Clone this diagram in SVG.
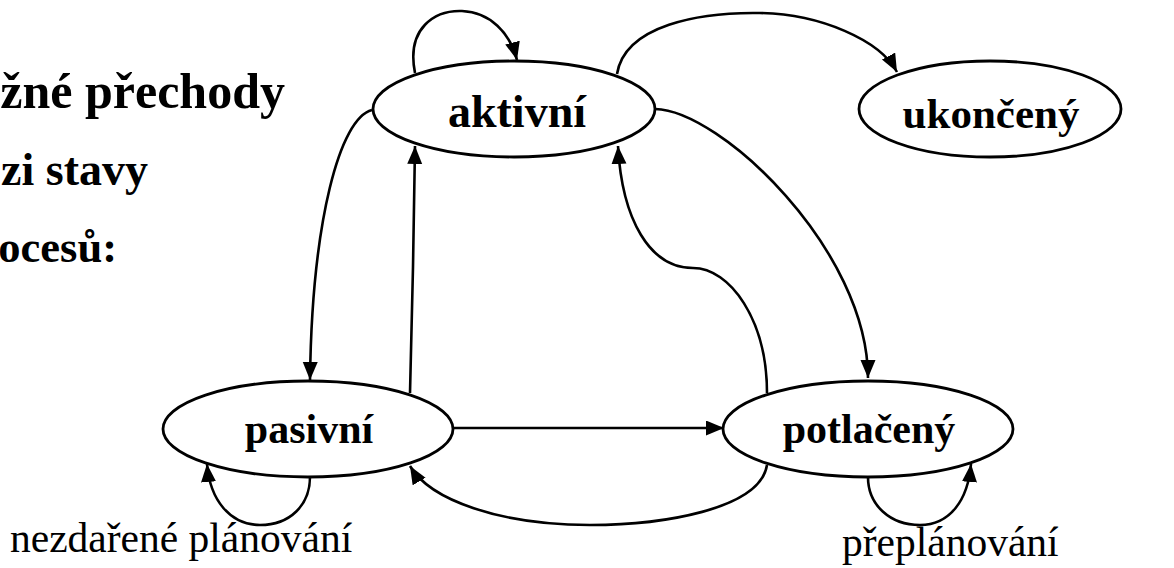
<svg xmlns="http://www.w3.org/2000/svg" width="1174" height="568" viewBox="0 0 1174 568">
<style>
.node{fill:#fff;stroke:#000;stroke-width:2.8}
.serif{font-family:"Liberation Serif","Times New Roman",serif}
.lbl{font-weight:bold;text-anchor:middle}
.title{font-weight:bold;text-anchor:end}
.note{font-size:41.5px}
.edge{fill:none;stroke:#000;stroke-width:2.6;marker-end:url(#arr)}
</style>
<defs>
<marker id="arr" markerUnits="userSpaceOnUse" markerWidth="19" markerHeight="16" refX="18" refY="7.5" orient="auto">
<path d="M0,0 L18,7.5 L0,15 z" fill="#000"/>
</marker>
</defs>
<rect width="1174" height="568" fill="#fff"/>
<g id="title" class="serif">
<text class="title" x="285" y="108" font-size="50">žné přechody</text>
<text class="title" x="148" y="185" font-size="46">zi stavy</text>
<text class="title" x="117" y="262" font-size="44.5">ocesů:</text>
</g>
<g id="connectors">
<path class="edge" d="M415,73 C406,28 435,10 462,11 C490,12 510,33 517,60"/>
<path class="edge" d="M617,74 C625,25 700,12 760,13 C820,14 880,40 897,72"/>
<path class="edge" d="M655,109 C720,110 868,250 868,378"/>
<path class="edge" d="M767,393 C767,320 730,268 693,268 C650,268 622,220 618,146"/>
<path class="edge" d="M410,393 L413,267 L415,146"/>
<path class="edge" d="M372,110 C340,118 312,220 310,380"/>
<path class="edge" d="M453,428 L724,428"/>
<path class="edge" d="M767,465 C760,510 660,525 590,525 C500,525 430,500 410,466"/>
<path class="edge" d="M310,477 C310,505 290,525 260,525 C230,525 210,500 207,464"/>
<path class="edge" d="M868,477 C868,505 890,525 920,525 C950,525 968,500 971,464"/>
</g>
<g id="aktivni" class="serif">
<ellipse class="node" cx="514" cy="109" rx="141" ry="48"/>
<text class="lbl" x="517" y="127" font-size="46">aktivní</text>
</g>
<g id="ukonceny" class="serif">
<ellipse class="node" cx="990" cy="109" rx="131" ry="48"/>
<text class="lbl" x="991" y="128" font-size="43">ukončený</text>
</g>
<g id="pasivni" class="serif">
<ellipse class="node" cx="308" cy="429" rx="145" ry="48"/>
<text class="lbl" x="309" y="443" font-size="42">pasivní</text>
</g>
<g id="potlaceny" class="serif">
<ellipse class="node" cx="868" cy="429" rx="145" ry="48"/>
<text class="lbl" x="869" y="443" font-size="42">potlačený</text>
</g>
<g id="notes" class="serif">
<text class="note" x="10" y="552">nezdařené plánování</text>
<text class="note" x="842" y="556">přeplánování</text>
</g>
</svg>
